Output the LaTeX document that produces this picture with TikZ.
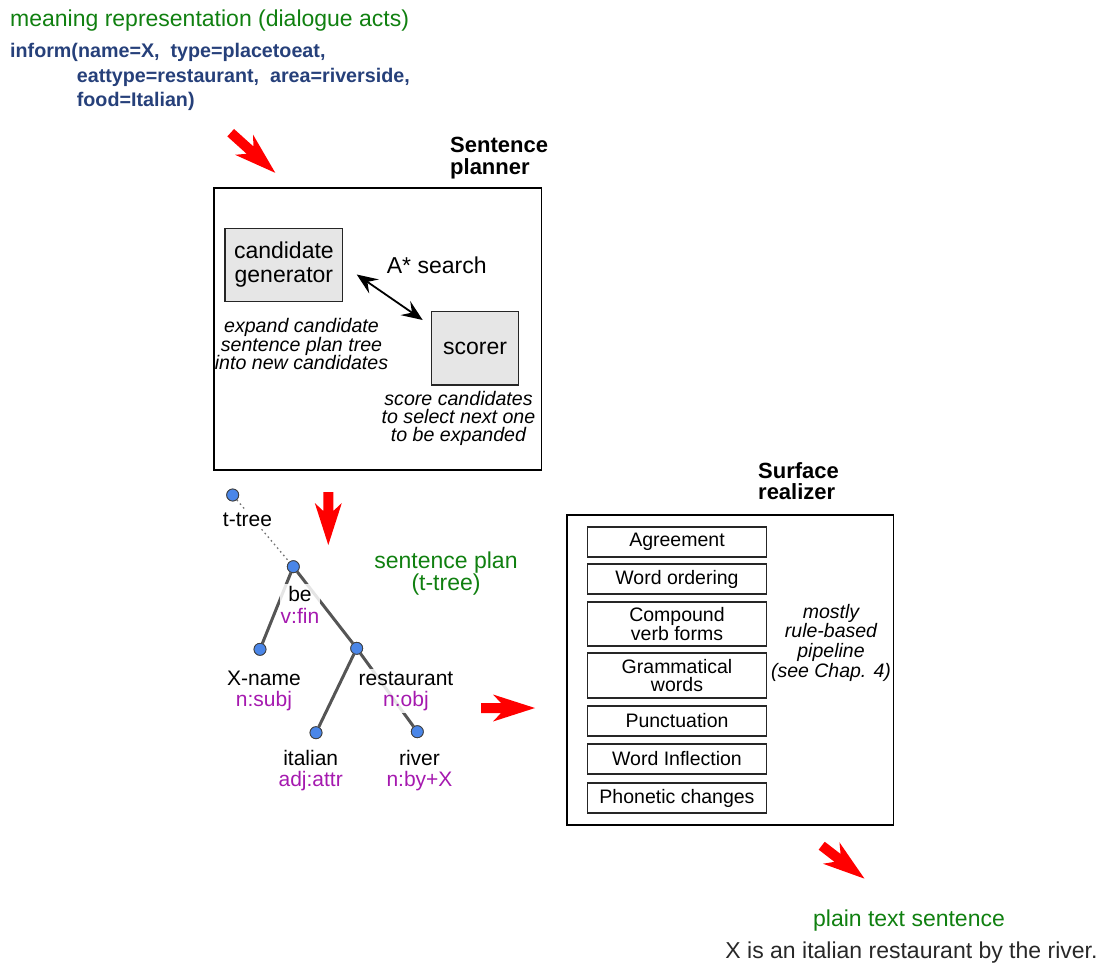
\documentclass[tikz,border=0pt]{standalone}
\usepackage{fontspec}
\setmainfont{Liberation Sans}
\usetikzlibrary{arrows.meta}

\definecolor{mrgreen}{RGB}{16,128,16}
\definecolor{mrblue}{RGB}{38,64,122}
\definecolor{tagpurple}{RGB}{165,25,175}
\definecolor{dotblue}{RGB}{74,134,232}
\definecolor{edgegray}{RGB}{85,85,85}
\definecolor{boxgray}{RGB}{230,230,230}
\definecolor{sentgray}{RGB}{40,40,40}

\newcommand\fsz[2]{\fontsize{#1}{#2}\selectfont}
\lineskiplimit=-100pt

\begin{document}
\begin{tikzpicture}[x=1pt,y=-1pt,
  plain/.style={inner sep=0pt, text=black},
  greenlbl/.style={plain, text=mrgreen, font=\fsz{23}{22}, align=center},
  mrline/.style={plain, anchor=base west, text=mrblue, font=\bfseries\fsz{19.7}{24}},
  title/.style={plain, anchor=base west, align=left, font=\bfseries\fsz{22}{21.8}},
  frame/.style={draw=black, line width=1.6pt, inner sep=0pt},
  graybox/.style={draw=black!85, line width=1.3pt, fill=boxgray, inner sep=0pt,
    align=center, font=\fsz{23}{24}},
  note/.style={plain, anchor=base, align=center, font=\itshape\fsz{19.6}{18.2}},
  stagebox/.style={draw=black!85, line width=1.2pt, fill=white, inner sep=0pt,
    minimum width=179.4pt, align=center, font=\fsz{19.5}{18.3}},
  tdot/.style={circle, minimum size=12pt, inner sep=0pt, fill=dotblue,
    draw=black!75, line width=0.8pt},
  tedge/.style={draw=edgegray, line width=3pt},
  tlbl/.style={anchor=base, align=center, inner xsep=1pt, inner ysep=2pt,
    fill=white, fill opacity=0.85, text opacity=1, font=\fsz{21}{21.7}},
  pics/redarr/.style={code={
    \fill[red] (0,5) -- ({#1-34},5) -- ({#1-42},13.5) -- (#1,0)
      -- ({#1-42},-13.5) -- ({#1-34},-5) -- (0,-5) -- cycle;}}
]
\useasboundingbox (0,0) rectangle (1106,962);

% meaning representation (multi-line nodes below are placed by their last baseline)
\node[plain, anchor=base west, text=mrgreen, font=\fsz{23}{22}] (mrtitle) at (10,26)
  {meaning representation (dialogue acts)};
\node[mrline] (mr1) at (10,57.7) {inform(name=X,\ \ type=placetoeat,};
\node[mrline] (mr2) at (76.7,82.7) {eattype=restaurant,\ \ area=riverside,};
\node[mrline] (mr3) at (76.7,106.7) {food=Italian)};

\pic[rotate=-42] at (230.7,132.7) {redarr=60};

% sentence planner
\node[title] (sptitle) at (450,174.1) {Sentence\\planner};
\node[frame, minimum width=327.5pt, minimum height=282pt] (planner) at (377.8,329) {};
\node[graybox, minimum width=117.7pt, minimum height=73.4pt] (cand) at (283.9,265)
  {candidate\\generator};
\node[graybox, minimum width=86.6pt, minimum height=73.3pt] (scorer) at (475,348.3)
  {scorer};
\node[plain, anchor=base west, font=\fsz{23}{24}] (astar) at (386.7,273.3) {A* search};
\coordinate (srchA) at (356.7,274.5);
\coordinate (srchB) at (422.7,320);
\draw[{Stealth[length=21pt,width=17pt,inset=8pt]}-{Stealth[length=21pt,width=17pt,inset=8pt]},
  line width=1.8pt] (srchA) -- (srchB);
\node[note] (candnote) at (301.5,369.3)
  {expand candidate\\sentence plan tree\\into new candidates};
\node[note, font=\itshape\fsz{19.6}{18.3}] (scorenote) at (458.5,441.6)
  {score candidates\\to select next one\\to be expanded};

\pic[rotate=-90] at (328.3,492) {redarr=53};

% sentence plan tree
\node[tdot] (troot) at (232.7,495) {};
\node[tdot] (tbe) at (293.3,566.7) {};
\node[tdot] (txname) at (260,649.3) {};
\node[tdot] (trest) at (356.7,648.3) {};
\node[tdot] (tital) at (316,732.7) {};
\node[tdot] (triver) at (417.3,731.7) {};

\draw[draw=black!55, line width=1.3pt, dash pattern=on 1.6pt off 3.2pt] (troot) -- (tbe);
\draw[tedge] (tbe) -- (txname);
\draw[tedge] (tbe) -- (trest);
\draw[tedge] (trest) -- (tital);
\draw[tedge] (trest) -- (triver);

\node[anchor=base, inner xsep=1pt, inner ysep=3pt, fill=white, font=\fsz{21}{21.7}]
  (lroot) at (247.5,526) {t-tree};
\node[tlbl] (lbe) at (300,623.4) {be\\\textcolor{tagpurple}{v:fin}};
\node[tlbl, fill opacity=0] (lxname) at (264,706.7) {X-name\\\textcolor{tagpurple}{n:subj}};
\node[tlbl] (lrest) at (406,706.7) {restaurant\\\textcolor{tagpurple}{n:obj}};
\node[tlbl, fill opacity=0] (lital) at (310.7,786.7) {italian\\\textcolor{tagpurple}{adj:attr}};
\node[tlbl, fill opacity=0] (lriver) at (419.5,786.7) {river\\\textcolor{tagpurple}{n:by+X}};

% redraw the dots above the labels
\foreach \d in {troot,tbe,txname,trest,tital,triver}
  \node[tdot] at (\d) {};

\node[greenlbl, anchor=base] (planlbl) at (446,590) {sentence plan\\(t-tree)};

\pic at (481,708) {redarr=54};

% surface realizer
\node[title] (srtitle) at (758,499.8) {Surface\\realizer};
\node[frame, minimum width=326.6pt, minimum height=310pt] (realizer) at (730,670) {};
\node[stagebox, minimum height=30pt] (agree) at (677,542) {Agreement};
\node[stagebox, minimum height=30pt] (order) at (677,579) {Word ordering};
\node[stagebox, minimum height=44pt] (compound) at (677,624) {Compound\\verb forms};
\node[stagebox, minimum height=45pt] (gramm) at (677,675.5) {Grammatical\\words};
\node[stagebox, minimum height=30pt] (punct) at (677,721) {Punctuation};
\node[stagebox, minimum height=30pt] (inflect) at (677,759) {Word Inflection};
\node[stagebox, minimum height=30pt] (phon) at (677,798) {Phonetic changes};
\node[note, font=\itshape\fsz{19.5}{19.7}] (rulenote) at (831,677.1)
  {mostly\\rule-based\\pipeline\\(see Chap. 4)};

\pic[rotate=-37.6] at (821.7,845.7) {redarr=54};

% output sentence
\node[greenlbl, anchor=base] (outlbl) at (909,926.7) {plain text sentence};
\node[plain, anchor=base, text=sentgray, font=\fsz{23}{24}] (outtext) at (911.5,958.3)
  {X is an italian restaurant by the river.};
\end{tikzpicture}
\end{document}
